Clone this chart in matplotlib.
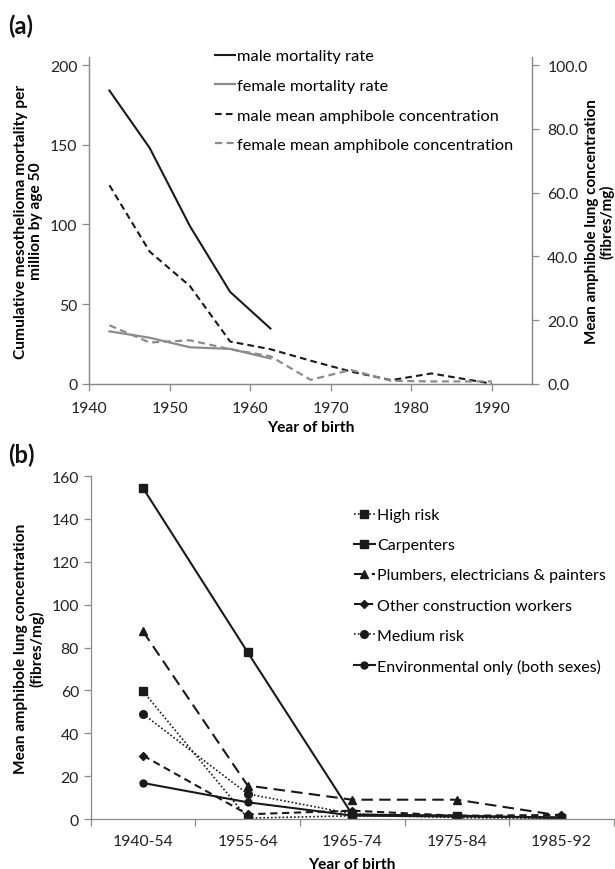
import matplotlib
matplotlib.use("Agg")
import matplotlib.pyplot as plt
from matplotlib.ticker import FormatStrFormatter, FixedLocator

plt.rcParams['font.family'] = ['Lato', 'DejaVu Sans']

# ---- panel (a) data ----
mort_years = [1942.5, 1947.5, 1952.5, 1957.5, 1962.5]
male_mort = [184, 148, 99, 57.7, 34.8]
female_mort = [33, 29, 23, 22, 16]

conc_years = [1942.5, 1947.5, 1952.5, 1957.5, 1962.5, 1967.5, 1972.5, 1977.5, 1982.5, 1990]
male_conc = [62.3, 41.5, 30.7, 13.3, 10.9, 7.3, 3.9, 1.2, 3.3, 0.1]
female_conc = [18.4, 13.0, 13.7, 10.9, 8.7, 1.3, 4.4, 1.0, 0.8, 0.8]

# ---- panel (b) data ----
cohorts = ['1940-54', '1955-64', '1965-74', '1975-84', '1985-92']
high_risk = [59.6, 0.4, 1.5, 1.0, 0.3]
carpenters = [154.4, 77.8, 2.1, 1.6, 0.4]
plumbers = [87.5, 15.6, 9.0, 9.0, 1.5]
other_constr = [29.6, 2.2, 3.9, 1.5, 1.9]
medium_risk = [49.0, 11.7, 2.4, 0.6, 0.4]
environmental = [16.8, 7.8, 1.6, 1.2, 0.8]

dark = '#1a1a1a'
grey = '#8c8c8c'
spine_c = '#8a8a8a'
lab_fs = 11.2
tick_fs = 11.3

fig = plt.figure(figsize=(6.15, 8.7), dpi=100)


def style_axis(ax):
    for s in ['top', 'right', 'left', 'bottom']:
        ax.spines[s].set_color(spine_c)
        ax.spines[s].set_linewidth(0.9)
    ax.tick_params(colors=spine_c, labelcolor='#222222', labelsize=tick_fs,
                   length=5, width=0.9, direction='out')


# ===== panel (a) =====
ax1 = fig.add_axes([0.1452, 0.5575, 0.865 - 0.1452, 0.9333 - 0.5575])
ax2 = ax1.twinx()

l1, = ax1.plot(mort_years, male_mort, color=dark, lw=1.5, label='male mortality rate')
l2, = ax1.plot(mort_years, female_mort, color=grey, lw=1.6, label='female mortality rate')
l3, = ax2.plot(conc_years, male_conc, color=dark, lw=1.5, dashes=(3.2, 2),
               label='male mean amphibole concentration')
l4, = ax2.plot(conc_years, female_conc, color=grey, lw=1.6, dashes=(3.2, 2),
               label='female mean amphibole concentration')

ax1.set_xlim(1940, 1995)
ax1.set_ylim(0, 205)
ax2.set_ylim(0, 102.5)
ax1.set_xticks([1940, 1950, 1960, 1970, 1980, 1990])
ax1.set_yticks([0, 50, 100, 150, 200])
ax2.set_yticks([0, 20, 40, 60, 80, 100])
ax2.yaxis.set_major_formatter(FormatStrFormatter('%.1f'))
for ax in (ax1, ax2):
    style_axis(ax)
    ax.spines['top'].set_visible(False)
ax1.tick_params(axis='x', pad=7)
ax2.tick_params(axis='y', pad=6)

ax1.set_ylabel('Cumulative mesothelioma mortality per\nmillion by age 50',
               fontsize=lab_fs, fontweight='bold', linespacing=1.15, labelpad=5)
ax2.set_ylabel('Mean amphibole lung concentration\n(fibres/mg)',
               fontsize=11, fontweight='bold', linespacing=1.05)
ax2.yaxis.set_label_coords(1.12, 0.5)
ax1.set_xlabel('Year of birth', fontsize=lab_fs, fontweight='bold', labelpad=4)

fig.legend(handles=[l1, l2, l3, l4], loc='upper left',
           bbox_to_anchor=(215 / 615, 1 - 50 / 870), frameon=False,
           fontsize=11.8, handlelength=1.2, handletextpad=0.15,
           labelspacing=0.92, borderaxespad=0, borderpad=0)

fig.text(8 / 615, 1 - 34 / 870, '(a)', fontsize=17, fontweight='bold', color='#111111')

# ===== panel (b) =====
ax3 = fig.add_axes([0.1475, 0.05747, 0.998 - 0.1475, 0.4517 - 0.05747])
xs = list(range(len(cohorts)))

series_b = [
    (high_risk, 'High risk', dict(ls=(0, (1, 1.3)), marker='s', ms=5.5, lw=1.2)),
    (carpenters, 'Carpenters', dict(ls='-', marker='s', ms=5.5, lw=1.5)),
    (plumbers, 'Plumbers, electricians & painters', dict(ls=(0, (5.5, 3)), marker='^', ms=5.5, lw=1.5)),
    (other_constr, 'Other construction workers', dict(ls=(0, (3.5, 2.2)), marker='D', ms=4, lw=1.5)),
    (medium_risk, 'Medium risk', dict(ls=(0, (1, 1.3)), marker='o', ms=5.5, lw=1.2)),
    (environmental, 'Environmental only (both sexes)', dict(ls='-', marker='o', ms=5, lw=1.5)),
]
handles = []
for vals, lab, kw in series_b:
    h, = ax3.plot(xs, vals, color=dark, label=lab, markerfacecolor=dark,
                  markeredgecolor=dark, **kw)
    handles.append(h)

ax3.set_xlim(-0.5, len(cohorts) - 0.5)
ax3.set_ylim(0, 160)
ax3.set_yticks(range(0, 161, 20))
ax3.set_xticks(xs)
ax3.set_xticklabels(cohorts)
ax3.xaxis.set_minor_locator(FixedLocator([i - 0.5 for i in range(len(cohorts) + 1)]))
style_axis(ax3)
ax3.tick_params(axis='x', which='major', length=0, pad=11)
ax3.tick_params(axis='x', which='minor', length=5, width=0.9, color=spine_c)
for s in ['top', 'right']:
    ax3.spines[s].set_visible(False)

ax3.set_ylabel('Mean amphibole lung concentration\n(fibres/mg)',
               fontsize=lab_fs, fontweight='bold', linespacing=1.1, labelpad=5)
ax3.set_xlabel('Year of birth', fontsize=lab_fs, fontweight='bold', labelpad=6)

fig.legend(handles=handles, loc='upper left',
           bbox_to_anchor=(354 / 615, 1 - 509 / 870), frameon=False,
           fontsize=11.5, handlelength=1.3, handletextpad=0.15,
           labelspacing=1.0, borderaxespad=0, borderpad=0)

fig.text(8 / 615, 1 - 463 / 870, '(b)', fontsize=17, fontweight='bold', color='#111111')

fig.savefig('out.png', dpi=100)
